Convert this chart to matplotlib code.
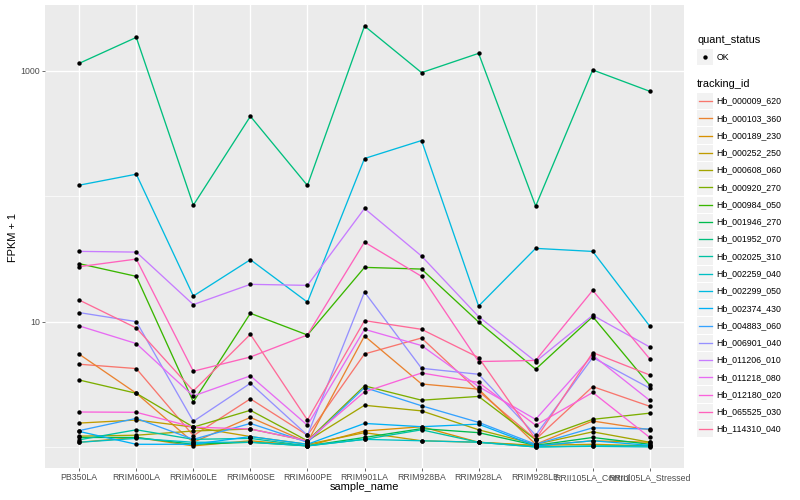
import numpy as np
import matplotlib
matplotlib.use('Agg')
import matplotlib.pyplot as plt
from matplotlib.patches import Rectangle
from matplotlib.ticker import FixedLocator, NullFormatter

plt.rcParams['font.family'] = ['Liberation Sans', 'DejaVu Sans']

sample_names = ['PB350LA', 'RRIM600LA', 'RRIM600LE', 'RRIM600SE', 'RRIM600PE', 'RRIM901LA',
                'RRIM928BA', 'RRIM928LA', 'RRIM928LE', 'RRII105LA_Control', 'RRII105LA_Stressed']

tracking_ids = ['Hb_000009_620', 'Hb_000103_360', 'Hb_000189_230', 'Hb_000252_250', 'Hb_000608_060',
                'Hb_000920_270', 'Hb_000984_050', 'Hb_001946_270', 'Hb_001952_070', 'Hb_002025_310',
                'Hb_002259_040', 'Hb_002299_050', 'Hb_002374_430', 'Hb_004883_060', 'Hb_006901_040',
                'Hb_011206_010', 'Hb_011218_080', 'Hb_012180_020', 'Hb_065525_030', 'Hb_114310_040']

# FPKM per sample (same order as sample_names)
fpkm_000009_620 = [3.57, 3.22, 0.23, 1.42, 0.24, 4.52, 6.40, 1.78, 0.15, 2.03, 1.11]
fpkm_000103_360 = [4.49, 1.68, 0.09, 0.72, 0.09, 6.68, 2.18, 1.89, 0.05, 0.61, 0.37]
fpkm_000189_230 = [0.09, 0.19, 0.02, 0.12, 0.02, 0.34, 0.45, 0.09, 0.02, 0.12, 0.09]
fpkm_000252_250 = [0.55, 0.64, 0.44, 0.21, 0.05, 0.30, 0.12, 0.09, 0.03, 0.05, 0.02]
fpkm_000608_060 = [0.22, 0.24, 0.34, 0.39, 0.12, 1.15, 0.94, 0.37, 0.05, 0.32, 0.09]
fpkm_000920_270 = [2.42, 1.68, 0.44, 0.96, 0.12, 2.07, 1.36, 1.53, 0.14, 0.66, 0.86]
fpkm_000984_050 = [27.99, 21.96, 1.29, 10.65, 6.82, 26.08, 25.25, 8.93, 3.17, 9.96, 2.11]
fpkm_001946_270 = [0.19, 0.19, 0.05, 0.09, 0.02, 0.19, 0.40, 0.30, 0.03, 0.19, 0.05]
fpkm_001952_070 = [1149, 1851, 83.9, 433.6, 120.9, 2282, 968.4, 1380, 82.4, 1017, 686.8]
fpkm_002025_310 = [0.14, 0.37, 0.15, 0.17, 0.02, 0.15, 0.37, 0.09, 0.00, 0.02, 0.02]
fpkm_002259_040 = [0.09, 0.17, 0.09, 0.09, 0.02, 0.15, 0.12, 0.09, 0.00, 0.01, 0.00]
fpkm_002299_050 = [121.6, 149.0, 15.0, 30.2, 13.3, 199.1, 277.4, 12.3, 37.4, 35.3, 8.2]
fpkm_002374_430 = [0.33, 0.05, 0.05, 0.21, 0.05, 0.54, 0.45, 0.52, 0.02, 0.12, 0.03]
fpkm_004883_060 = [0.35, 0.69, 0.15, 0.54, 0.09, 1.98, 1.13, 0.57, 0.05, 0.42, 0.39]
fpkm_006901_040 = [10.80, 9.00, 0.60, 2.22, 0.24, 16.21, 3.24, 2.80, 0.24, 4.17, 1.94]
fpkm_011206_010 = [35.33, 34.86, 12.66, 18.83, 18.46, 78.9, 32.32, 9.96, 3.80, 10.23, 5.27]
fpkm_011218_080 = [8.24, 5.68, 1.55, 2.69, 0.49, 7.68, 5.44, 2.03, 0.66, 4.39, 1.35]
fpkm_012180_020 = [0.90, 0.89, 0.44, 0.39, 0.12, 1.75, 2.89, 2.27, 0.49, 1.72, 0.19]
fpkm_065525_030 = [26.43, 30.54, 3.02, 4.22, 6.82, 42.08, 21.96, 3.80, 3.90, 16.76, 4.04]
fpkm_114310_040 = [13.86, 7.89, 1.80, 6.92, 0.64, 9.18, 7.68, 4.17, 0.15, 4.66, 2.75]

series = [fpkm_000009_620, fpkm_000103_360, fpkm_000189_230, fpkm_000252_250, fpkm_000608_060,
          fpkm_000920_270, fpkm_000984_050, fpkm_001946_270, fpkm_001952_070, fpkm_002025_310,
          fpkm_002259_040, fpkm_002299_050, fpkm_002374_430, fpkm_004883_060, fpkm_006901_040,
          fpkm_011206_010, fpkm_011218_080, fpkm_012180_020, fpkm_065525_030, fpkm_114310_040]


def hcl_to_rgb(h, c=100, l=65):
    # polar Luv -> sRGB, like ggplot's hue_pal
    hr = np.radians(h)
    u, v = c * np.cos(hr), c * np.sin(hr)
    xn, yn, zn = 95.047, 100.0, 108.883
    un = 4 * xn / (xn + 15 * yn + 3 * zn)
    vn = 9 * yn / (xn + 15 * yn + 3 * zn)
    y = yn * ((l + 16) / 116) ** 3
    up = u / (13 * l) + un
    vp = v / (13 * l) + vn
    x = y * 9 * up / (4 * vp)
    z = y * (12 - 3 * up - 20 * vp) / (4 * vp)
    x, y, z = x / 100, y / 100, z / 100
    rgb = np.array([3.2404542 * x - 1.5371385 * y - 0.4985314 * z,
                    -0.9692660 * x + 1.8760108 * y + 0.0415560 * z,
                    0.0556434 * x - 0.2040259 * y + 1.0572252 * z])
    rgb = np.where(rgb <= 0.0031308, 12.92 * rgb, 1.055 * np.clip(rgb, 0, None) ** (1 / 2.4) - 0.055)
    return tuple(np.clip(rgb, 0, 1))


n = len(tracking_ids)
colors = [hcl_to_rgb(15 + 360 / n * i) for i in range(n)]

fig = plt.figure(figsize=(8, 5), dpi=100)
ax = fig.add_axes([45 / 800, 32 / 500, 639 / 800, 463 / 500])
ax.set_facecolor('#EBEBEB')

x = np.arange(len(sample_names))
for vals, col in zip(series, colors):
    ax.plot(x, np.array(vals) + 1, color=col, lw=0.95, zorder=2)
for vals in series:
    ax.scatter(x, np.array(vals) + 1, s=10, color='black', zorder=3, linewidths=0)

ax.set_yscale('log')
ax.set_ylim(10 ** -0.168, 10 ** 3.526)
ax.set_xlim(-0.6, len(sample_names) - 0.4)
ax.yaxis.set_major_locator(FixedLocator([10, 1000]))
ax.yaxis.set_minor_locator(FixedLocator([1, 100]))
ax.yaxis.set_minor_formatter(NullFormatter())
ax.set_yticklabels(['10', '1000'])
ax.set_xticks(x)
ax.set_xticklabels(sample_names)
ax.grid(which='major', color='white', lw=1.0)
ax.grid(which='minor', axis='y', color='white', lw=0.5)
ax.set_axisbelow(True)
for s in ax.spines.values():
    s.set_visible(False)
ax.tick_params(which='major', length=2, width=0.5, color='#333333', labelcolor='#4D4D4D',
               labelsize=6.3, pad=1.5)
ax.tick_params(which='minor', length=0)

fig.text(13 / 800, 1 - 237 / 500, 'FPKM + 1', rotation=90, ha='center', va='center', fontsize=7.9)
fig.text(364 / 800, 1 - 487 / 500, 'sample_name', ha='center', va='center', fontsize=7.9)

# legend panel, drawn in pixel coordinates
lax = fig.add_axes([0, 0, 1, 1])
lax.set_xlim(0, 800)
lax.set_ylim(500, 0)
lax.axis('off')
lax.patch.set_alpha(0)

lax.text(697, 40, 'quant_status', va='center', ha='left', fontsize=7.9)
lax.add_patch(Rectangle((697, 49), 16, 16, fc='#F2F2F2', ec='none'))
lax.scatter([705], [57], s=10, color='black', linewidths=0)
lax.text(716.5, 57, 'OK', va='center', ha='left', fontsize=6.3)

lax.text(697, 84, 'tracking_id', va='center', ha='left', fontsize=7.9)
for i, (tid, col) in enumerate(zip(tracking_ids, colors)):
    cy = 101 + 17.27 * i
    lax.add_patch(Rectangle((697, cy - 8.1), 16, 16.2, fc='#F2F2F2', ec='none'))
    lax.plot([698.5, 711.5], [cy, cy], color=col, lw=0.95)
    lax.text(716.5, cy, tid, va='center', ha='left', fontsize=6.3)

fig.savefig('out.png', dpi=100)
